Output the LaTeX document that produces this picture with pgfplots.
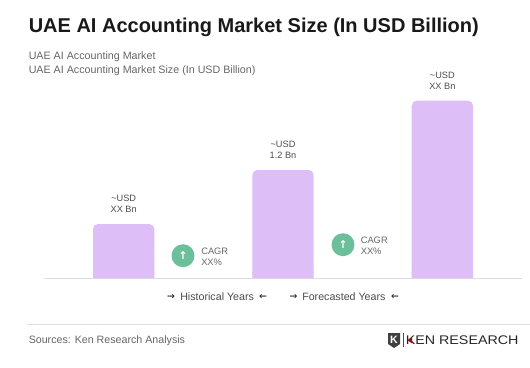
\documentclass[border=0pt]{standalone}
\usepackage{fontspec}
\usepackage{pgfplots}
\pgfplotsset{compat=1.18}
\setmainfont{Liberation Sans}
\newfontfamily\djv{DejaVu Sans}
\definecolor{barc}{RGB}{221,190,247}
\definecolor{grn}{RGB}{107,192,155}
\definecolor{lin}{RGB}{221,221,221}
\definecolor{sub}{RGB}{102,102,102}
\definecolor{lab}{RGB}{75,75,75}
\newcommand{\fs}[1]{\fontsize{#1}{#1}\selectfont}
\begin{document}
\begin{tikzpicture}[x=0.75pt,y=-0.75pt]
\path[use as bounding box] (0,0) rectangle (530,367);
\begin{axis}[
  at={(33pt,-208.5pt)},anchor=south west,
  scale only axis,width=358.5pt,height=135pt,
  xmin=-0.5,xmax=2.5,ymin=0,ymax=2,clip=false,
  axis y line=none,axis x line=bottom,
  x axis line style={lin,-,line width=0.75pt},
  xtick=\empty,ytick=\empty,
  ybar,bar width=46pt,bar shift=0pt,
]
\addplot[fill=barc,draw=none,rounded corners=3.75pt,
  nodes near coords,point meta=explicit symbolic,
  every node near coord/.append style={align=center,font=\fontsize{6.9}{8.3}\selectfont,text=lab,inner sep=0pt,yshift=8.4pt,text depth=0pt}]
  coordinates {(0,0.6)[\textasciitilde USD\\XX Bn] (1,1.2)[\textasciitilde USD\\1.2 Bn] (2,1.97)[\textasciitilde USD\\XX Bn]};
\addplot[fill=barc,draw=none,forget plot] coordinates {(0,0.07)(1,0.07)(2,0.07)};
\end{axis}
\node[anchor=base west,inner sep=0pt,font=\bfseries\fs{15},text=black!90] at (28.5,32.5) {UAE AI Accounting Market Size (In USD Billion)};
\node[anchor=base west,inner sep=0pt,font=\fs{8.03},text=sub] at (28.5,60) {UAE AI Accounting Market};
\node[anchor=base west,inner sep=0pt,font=\fs{8.03},text=sub] at (28.5,74) {UAE AI Accounting Market Size (In USD Billion)};
% CAGR
\fill[grn] (183,255.7) circle[radius=11.5];
\fill[grn] (343,244.7) circle[radius=11.5];
\node[inner sep=0pt,text=white,font=\djv\bfseries\fs{8}] at (183,255.7) {↑};
\node[inner sep=0pt,text=white,font=\djv\bfseries\fs{8}] at (343,244.7) {↑};
\node[anchor=base west,inner sep=0pt,font=\fs{7},text=lab!85] at (201,254.5) {CAGR};
\node[anchor=base west,inner sep=0pt,font=\fs{7},text=lab!85] at (201,265.5) {XX\%};
\node[anchor=base west,inner sep=0pt,font=\fs{7},text=lab!85] at (360.5,243.5) {CAGR};
\node[anchor=base west,inner sep=0pt,font=\fs{7},text=lab!85] at (360.5,254.5) {XX\%};
% period labels
\node[anchor=base west,inner sep=0pt,font=\fs{8},text=lab] at (180,300) {Historical Years};
\node[anchor=base west,inner sep=0pt,font=\fs{8},text=lab] at (302,300) {Forecasted Years};
\node[inner sep=0pt,font=\djv\bfseries\fs{7},text=black!80] at (171,296.5) {→};
\node[inner sep=0pt,font=\djv\bfseries\fs{7},text=black!80] at (263,296.5) {←};
\node[inner sep=0pt,font=\djv\bfseries\fs{7},text=black!80] at (293.5,296.5) {→};
\node[inner sep=0pt,font=\djv\bfseries\fs{7},text=black!80] at (395,296.5) {←};
% footer
\draw[lin,line width=0.75pt] (27,324) -- (530,324);
\node[anchor=base west,inner sep=0pt,font=\fs{8},text=sub] at (28.5,343) {Sources: Ken Research Analysis};
% logo
\fill[black!75] (388,333) -- (400,333) -- (400,344) -- (394,348) -- (388,344) -- cycle;
\node[inner sep=0pt,text=white,font=\bfseries\fs{8}] at (394,340) {K};
\draw[black!70,line width=0.4pt] (403,333) -- (403,347);
\node[anchor=base west,inner sep=0pt,font=\fs{9.4},text=black!85,xscale=1.14] at (405.5,344.5) {KEN RESEARCH};
\fill[red!75!black] (408,340.5) -- (412,337.5) -- (412,343.5) -- cycle;
\end{tikzpicture}
\end{document}
